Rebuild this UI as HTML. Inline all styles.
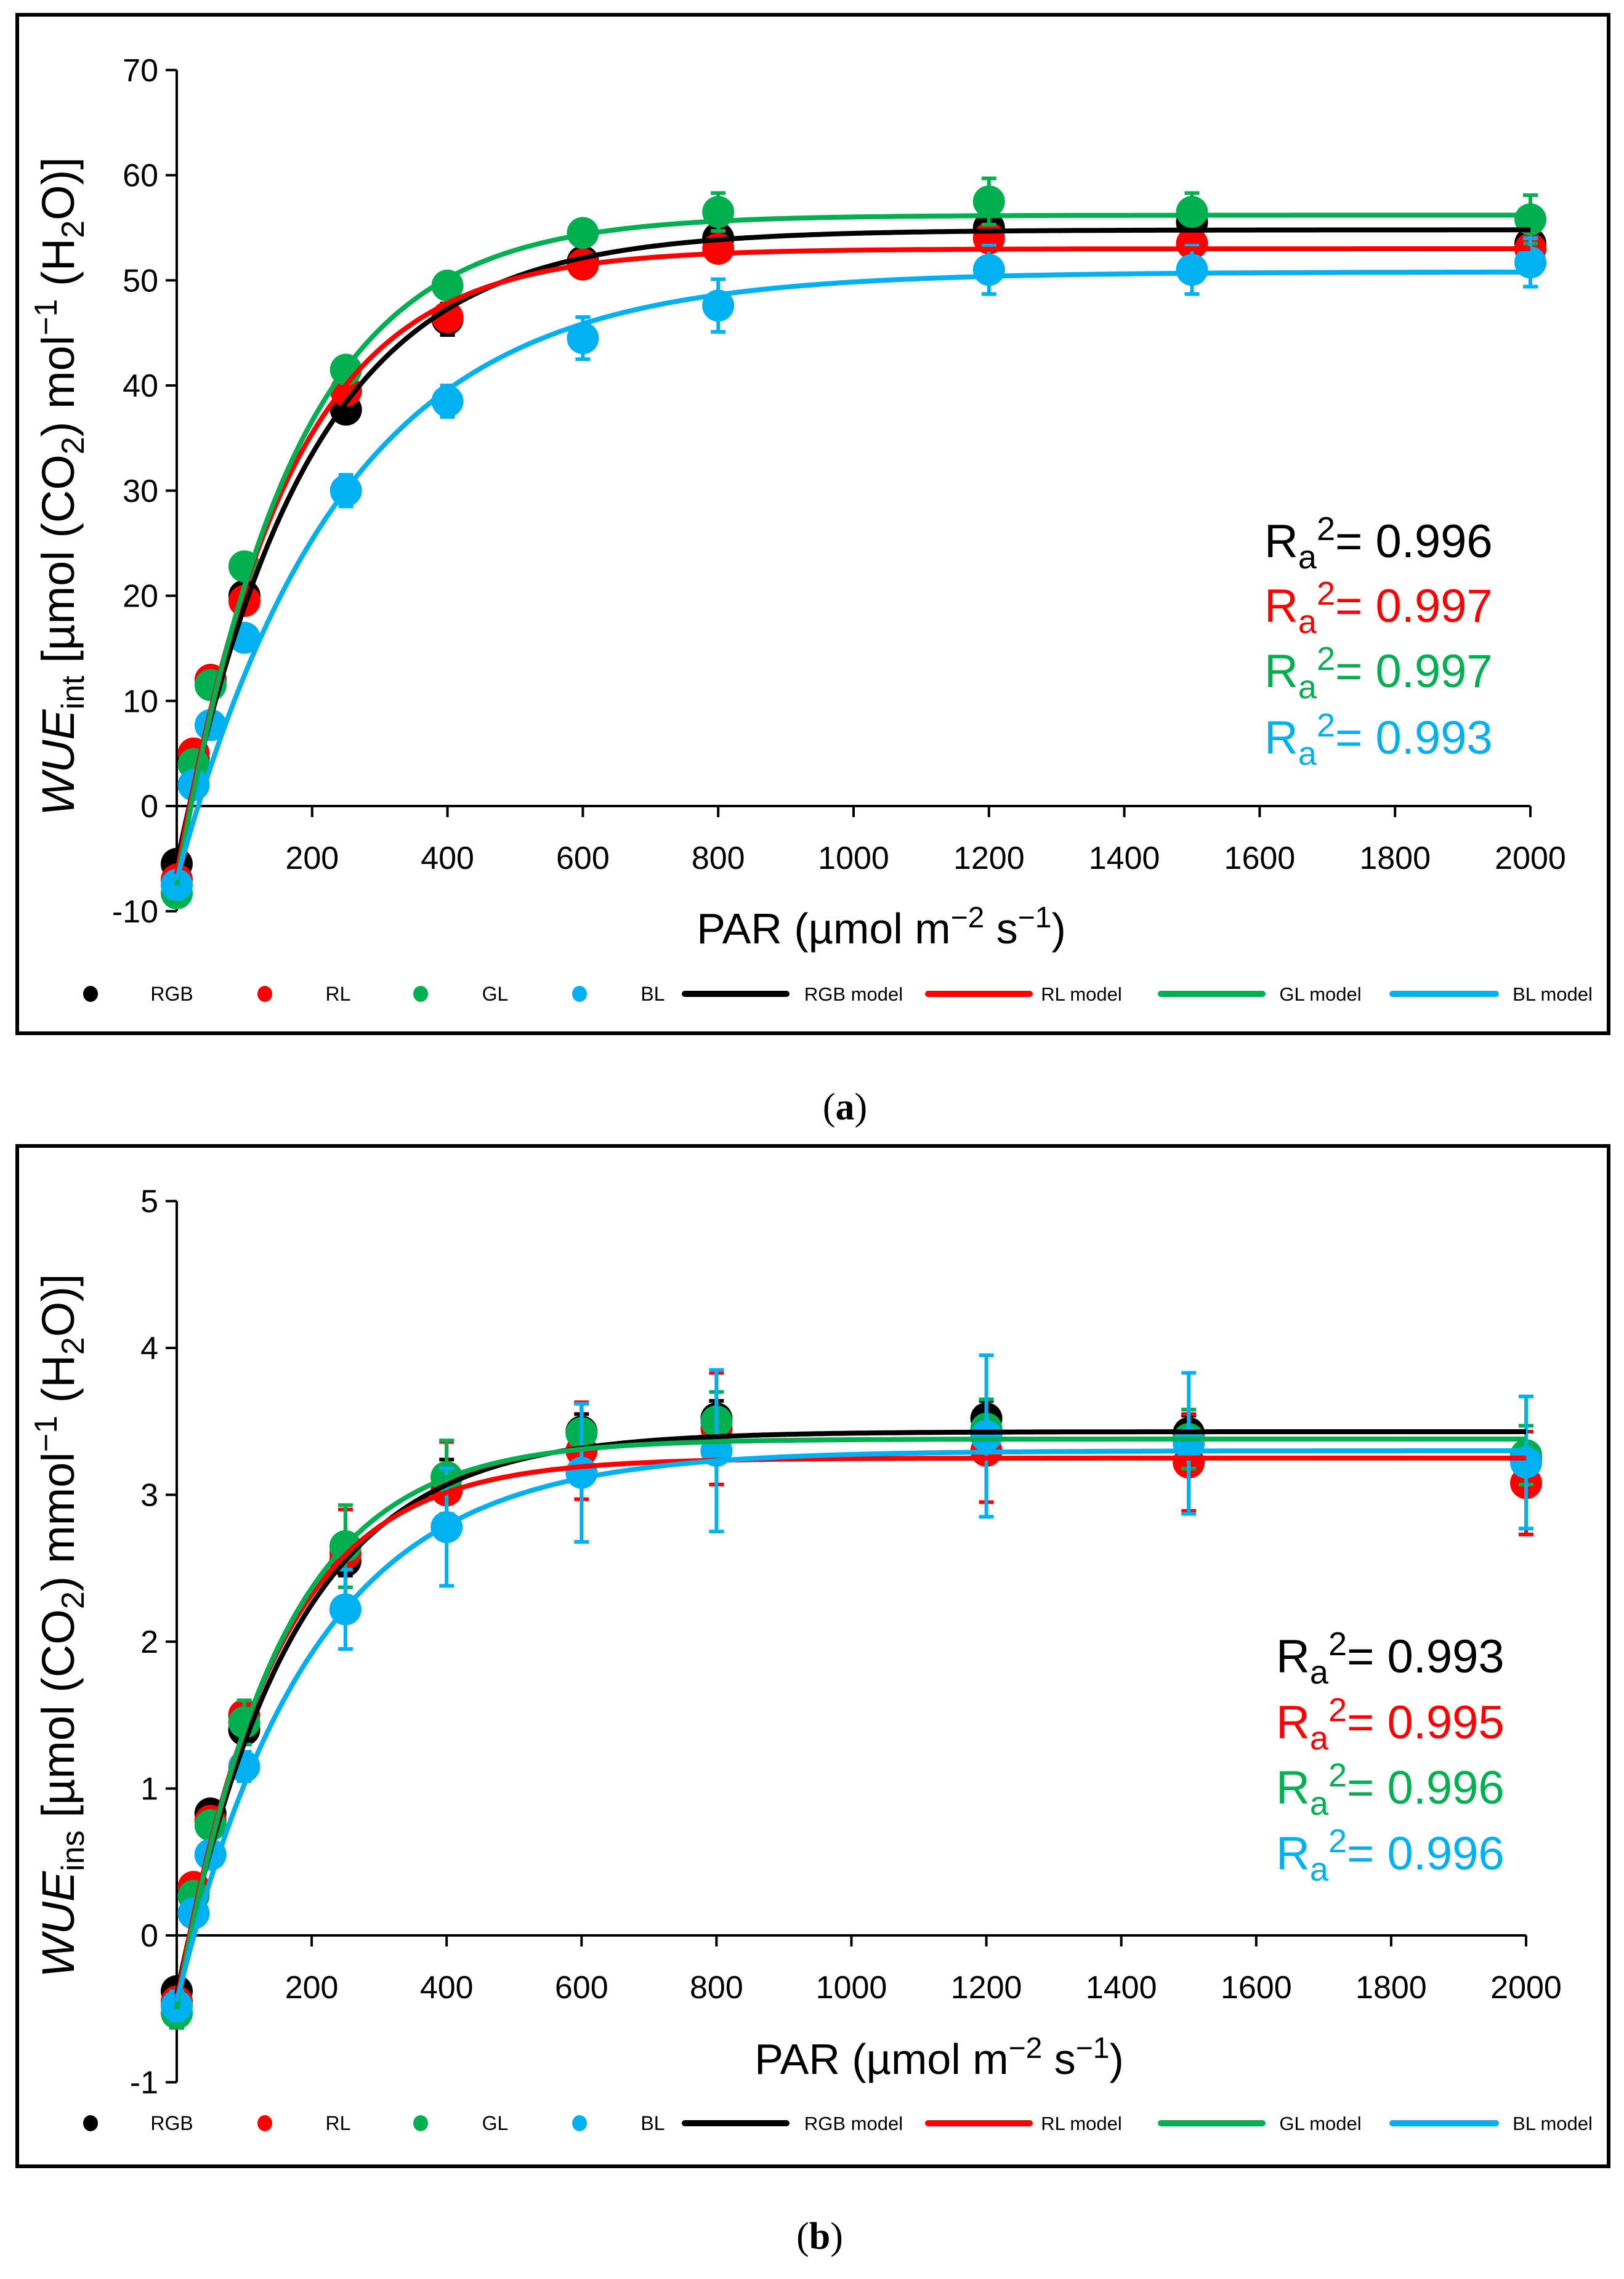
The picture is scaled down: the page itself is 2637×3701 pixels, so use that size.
<!DOCTYPE html>
<html><head><meta charset="utf-8"><style>
html,body{margin:0;padding:0;background:#fff;}
svg{display:block;}
text{font-family:"Liberation Sans",sans-serif;}
</style></head><body>
<svg id="root" width="2637" height="3701" viewBox="0 0 2637 3701" xmlns="http://www.w3.org/2000/svg"></svg>
<script>
// ---------- data ----------
const par = [0, 25, 50, 100, 250, 400, 600, 800, 1200, 1500, 2000];
const seriesNames = ["RGB", "RL", "GL", "BL"];
const seriesColors = ["#000000", "#FF0000", "#00B050", "#00B0F0"];
// panel a
const aRGB = [-5.5, 4.5, 12, 20, 37.7, 46.3, 51.8, 54, 55, 55.5, 53.5];
const aRL  = [-7, 5, 12, 19.5, 39.5, 46.5, 51.5, 53, 54, 53.5, 53];
const aGL  = [-8.3, 4, 11.5, 22.8, 41.5, 49.5, 54.5, 56.5, 57.5, 56.5, 55.8];
const aBL  = [-7.5, 2, 7.7, 16, 30, 38.5, 44.5, 47.6, 51, 51, 51.7];
const aErrRGB = [0.8, 0.6, 0.8, 0.8, 1.2, 1.5, 1, 1, 1, 1, 1];
const aErrRL  = [0.8, 0.6, 0.8, 0.8, 1.2, 1.2, 1, 1, 1, 1, 1];
const aErrGL  = [0.8, 0.6, 0.8, 0.8, 1, 1, 1, 1.8, 2.2, 1.8, 2.3];
const aErrBL  = [0.8, 0.6, 0.8, 0.8, 1.5, 1.5, 2, 2.5, 2.3, 2.3, 2.3];
const aModelMax = [54.8, 53, 56.2, 50.8];
const aModelR   = [5.5, 6.5, 7.5, 7];
const aModelK   = [0.0052, 0.0061, 0.0059, 0.0041];
const aR2 = ["0.996", "0.997", "0.997", "0.993"];
const aTicksY = [-10, 0, 10, 20, 30, 40, 50, 60, 70];
const ticksX = [200, 400, 600, 800, 1000, 1200, 1400, 1600, 1800, 2000];
// panel b
const bRGB = [-0.38, 0.3, 0.83, 1.4, 2.55, 3.12, 3.43, 3.52, 3.52, 3.42, 3.25];
const bRL  = [-0.45, 0.33, 0.78, 1.5, 2.6, 3.03, 3.3, 3.45, 3.3, 3.22, 3.08];
const bGL  = [-0.53, 0.27, 0.75, 1.45, 2.65, 3.12, 3.42, 3.5, 3.45, 3.38, 3.27];
const bBL  = [-0.48, 0.15, 0.55, 1.15, 2.22, 2.78, 3.15, 3.3, 3.4, 3.35, 3.22];
const bErrRGB = [0.05, 0.05, 0.05, 0.1, 0.1, 0.12, 0.12, 0.12, 0.12, 0.12, 0.1];
const bErrRL  = [0.05, 0.05, 0.05, 0.1, 0.3, 0.33, 0.33, 0.38, 0.35, 0.33, 0.35];
const bErrGL  = [0.1, 0.05, 0.05, 0.15, 0.28, 0.25, 0.2, 0.2, 0.2, 0.2, 0.2];
const bErrBL  = [0.1, 0.05, 0.05, 0.1, 0.27, 0.4, 0.47, 0.55, 0.55, 0.48, 0.45];
const bModelMax = [3.43, 3.25, 3.38, 3.3];
const bModelR   = [0.4, 0.45, 0.5, 0.45];
const bModelK   = [0.0059, 0.0069, 0.0067, 0.005];
const bR2 = ["0.993", "0.995", "0.996", "0.996"];
const bTicksY = [-1, 0, 1, 2, 3, 4, 5];

const NS = "http://www.w3.org/2000/svg";
const root = document.getElementById("root");
function mk(tag, attrs, parent) {
  const e = document.createElementNS(NS, tag);
  for (const k in attrs) e.setAttribute(k, attrs[k]);
  (parent || root).appendChild(e);
  return e;
}

function drawPanel(p) {
  const g = mk("g", {});
  
  
  const fr = mk("rect", {x: 28, y: p.frameTop, width: 2584, height: p.frameH, fill: "none", stroke: "#000", "stroke-width": 6}, g);
  
  
  const xS = v => p.x0 + (v / 2000) * (p.x1 - p.x0);
  const yS = v => p.yZero - (v / p.yStep) * p.yStepPx;
  const yMin = p.ticksY[0], yMax = p.ticksY[p.ticksY.length - 1];
  const ya = mk("line", {x1: p.x0, y1: yS(yMin), x2: p.x0, y2: yS(yMax), stroke: "#000", "stroke-width": 4}, g);
  
  
  p.ticksY.forEach(t => {
    mk("line", {x1: p.x0 - 18, y1: yS(t), x2: p.x0, y2: yS(t), stroke: "#000", "stroke-width": 4}, g);
    const tx = mk("text", {x: p.x0 - 30, y: yS(t) + 18, "text-anchor": "end", "font-size": 52, fill: "#000"}, g);
    tx.textContent = t;
    
    
  });
  const xa = mk("line", {x1: p.x0, y1: yS(0), x2: xS(2000), y2: yS(0), stroke: "#000", "stroke-width": 4}, g);
  
  
  ticksX.forEach(t => {
    mk("line", {x1: xS(t), y1: yS(0), x2: xS(t), y2: yS(0) + 18, stroke: "#000", "stroke-width": 4}, g);
    const tx = mk("text", {x: xS(t), y: yS(0) + 102, "text-anchor": "middle", "font-size": 52, fill: "#000"}, g);
    tx.textContent = t;
    
    
  });
  const xt = mk("text", {x: p.xTitleX, y: p.xTitleY, "text-anchor": "middle", "font-size": 70, fill: "#000"}, g);
  xt.innerHTML = 'PAR (µmol m<tspan dy="-26" font-size="48">−2</tspan><tspan dy="26"> s</tspan><tspan dy="-26" font-size="48">−1</tspan><tspan dy="26">)</tspan>';
  
  
  const yt = mk("text", {x: 0, y: 0, "text-anchor": "middle", "font-size": 74, fill: "#000", transform: `translate(${p.yTitleX},${p.yTitleY}) rotate(-90)`}, g);
  yt.innerHTML = '<tspan font-style="italic">WUE</tspan><tspan dy="16" font-size="52">' + p.sub + '</tspan><tspan dy="-16"> [µmol (CO</tspan><tspan dy="16" font-size="52">2</tspan><tspan dy="-16">) ' + p.unit + 'mol</tspan><tspan dy="-28" font-size="52">−1</tspan><tspan dy="28"> (H</tspan><tspan dy="16" font-size="52">2</tspan><tspan dy="-16">O)]</tspan>';
  
  
  p.series.forEach((vals, si) => {
    const col = seriesColors[si];
    const sg = mk("g", {}, g);
    
    
    vals.forEach((v, i) => {
      const e = p.errs[si][i];
      const cx = xS(par[i]);
      mk("line", {x1: cx, y1: yS(v - e), x2: cx, y2: yS(v + e), stroke: col, "stroke-width": 6}, sg);
      mk("line", {x1: cx - 12, y1: yS(v - e), x2: cx + 12, y2: yS(v - e), stroke: col, "stroke-width": 6}, sg);
      mk("line", {x1: cx - 12, y1: yS(v + e), x2: cx + 12, y2: yS(v + e), stroke: col, "stroke-width": 6}, sg);
      const c = mk("circle", {cx: cx, cy: yS(v), r: 26, fill: col}, sg);
      
      
    });
  });
  for (let si = 0; si < 4; si++) {
    let d = "";
    for (let x = 0; x <= 2000; x += 5) {
      const v = (p.mMax[si] + p.mR[si]) * (1 - Math.exp(-p.mK[si] * x)) - p.mR[si];
      d += (x === 0 ? "M" : "L") + xS(x).toFixed(1) + "," + yS(v).toFixed(1);
    }
    const pl = mk("path", {d: d, fill: "none", stroke: seriesColors[si], "stroke-width": 8}, g);
    
    
  }
  p.r2.forEach((r, si) => {
    const t = mk("text", {x: p.r2X, y: p.r2Y[si], "font-size": 76, fill: seriesColors[si]}, g);
    t.innerHTML = 'R<tspan dy="18" font-size="54">a</tspan><tspan dy="-46" font-size="54">2</tspan><tspan dy="28">= ' + r + '</tspan>';
    
    
  });
  const lg = mk("g", {}, g);
  
  
  const ly = p.legendY;
  const dotX = [147, 430, 683, 941];
  const dotTx = [279, 549, 804, 1060];
  const lnX = [[1112, 1277], [1507, 1672], [1885, 2050], [2261, 2429]];
  const lnTx = [1386, 1756, 2144, 2521];
  for (let si = 0; si < 4; si++) {
    const e1 = mk("g", {}, lg);
    
    
    mk("ellipse", {cx: dotX[si], cy: ly, rx: 12, ry: 13, fill: seriesColors[si]}, e1);
    const t1 = mk("text", {x: dotTx[si], y: ly + 11, "text-anchor": "middle", "font-size": 32, fill: "#000"}, e1);
    t1.textContent = seriesNames[si];
    const e2 = mk("g", {}, lg);
    
    
    mk("line", {x1: lnX[si][0], y1: ly, x2: lnX[si][1], y2: ly, stroke: seriesColors[si], "stroke-width": 10, "stroke-linecap": "round"}, e2);
    const t2 = mk("text", {x: lnTx[si], y: ly + 11, "text-anchor": "middle", "font-size": 31, fill: "#000"}, e2);
    t2.textContent = seriesNames[si] + " model";
  }
  const cap = mk("text", {x: p.capX, y: p.capY, "text-anchor": "middle", "font-size": 62, fill: "#000", style: 'font-family:"Liberation Serif",serif'});
  cap.innerHTML = '(<tspan font-weight="bold">' + p.capLetter + '</tspan>)';
  
  
}

drawPanel({
  name: "panel-a-chart", frameTop: 24, frameH: 1654,
  x0: 287, x1: 2485, yZero: 1309, yStep: 10, yStepPx: 170.75, ticksY: aTicksY,
  xTitleX: 1431, xTitleY: 1532, yTitleX: 120, yTitleY: 790, sub: "int", unit: "",
  series: [aRGB, aRL, aGL, aBL], errs: [aErrRGB, aErrRL, aErrGL, aErrBL],
  mMax: aModelMax, mR: aModelR, mK: aModelK,
  r2: aR2, r2X: 2053, r2Y: [905, 1010, 1116, 1224],
  legendY: 1614, capX: 1372, capY: 1818, capLetter: "a"
});
drawPanel({
  name: "panel-b-chart", frameTop: 1861, frameH: 1657,
  x0: 287, x1: 2478, yZero: 3143, yStep: 1, yStepPx: 238.5, ticksY: bTicksY,
  xTitleX: 1525, xTitleY: 3368, yTitleX: 120, yTitleY: 2640, sub: "ins", unit: "m",
  series: [bRGB, bRL, bGL, bBL], errs: [bErrRGB, bErrRL, bErrGL, bErrBL],
  mMax: bModelMax, mR: bModelR, mK: bModelK,
  r2: bR2, r2X: 2072, r2Y: [2716, 2823, 2929, 3036],
  legendY: 3448, capX: 1331, capY: 3652, capLetter: "b"
});
</script>
</body></html>
